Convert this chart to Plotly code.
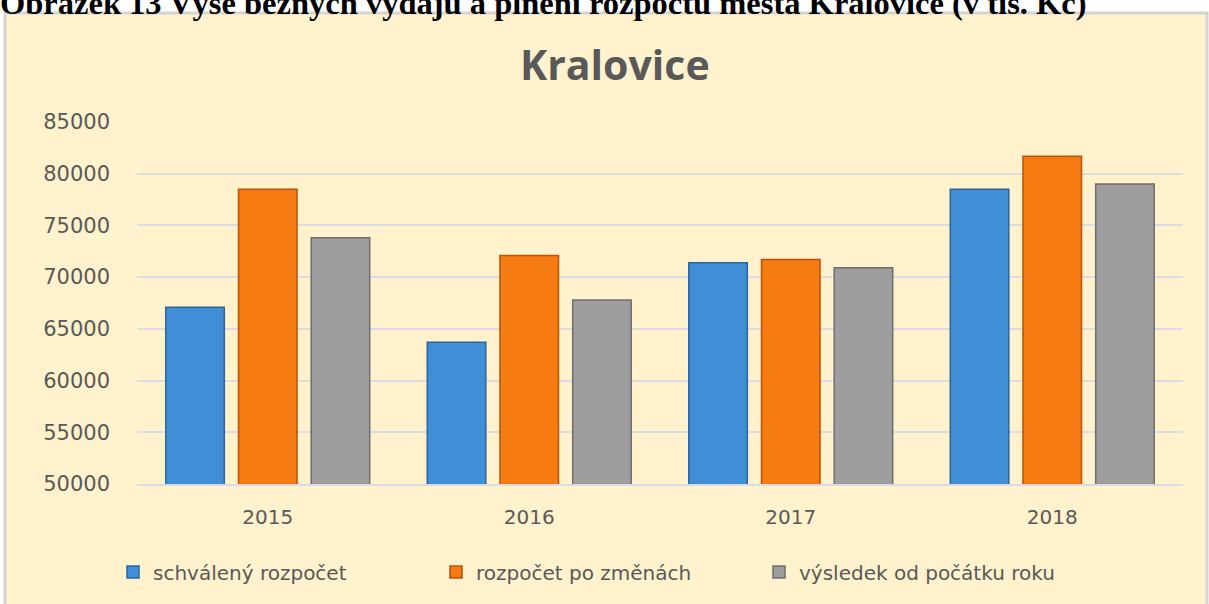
import plotly.graph_objects as go

years = ["2015", "2016", "2017", "2018"]
schvaleny = [67100, 63700, 71400, 78500]
po_zmenach = [78500, 72100, 71700, 81700]
vysledek = [73800, 67800, 70900, 79000]
series_names = ["schválený rozpočet", "rozpočet po změnách", "výsledek od počátku roku"]
colors = ["#3F8ED6", "#F57B12", "#9E9E9E"]
edges = ["#2A659E", "#B9520A", "#6E6E6E"]

W, H = 1209, 604
L, R, T, B = 137, 26, 122, 120
pw, ph = W - L - R, H - T - B

def px(x):
    return (x - L) / pw

def py(y):
    return (H - B - y) / ph

fig = go.Figure()
for name, vals, c, e in zip(series_names, [schvaleny, po_zmenach, vysledek], colors, edges):
    fig.add_trace(go.Bar(x=years, y=vals, name=name,
                         marker=dict(color=c, line=dict(color=e, width=1.5))))

fig.update_layout(
    width=W, height=H,
    margin=dict(l=L, r=R, t=T, b=B),
    paper_bgcolor="white",
    plot_bgcolor="rgba(0,0,0,0)",
    barmode="group", bargap=0.166, bargroupgap=0.195,
    font=dict(family="DejaVu Sans", color="#595959"),
    showlegend=True,
    legend=dict(orientation="h", x=px(113), xanchor="left", y=py(572), yanchor="middle",
                font=dict(family="DejaVu Sans", size=20, color="#595959"),
                bgcolor="rgba(0,0,0,0)", itemwidth=30, traceorder="normal",
                entrywidth=278),
    shapes=[dict(type="rect", xref="paper", yref="paper",
                 x0=px(5), x1=px(1207), y0=py(607), y1=py(13),
                 fillcolor="#FFF2CC", line=dict(color="#D4D4D4", width=3), layer="below")],
    annotations=[
        dict(text="Kralovice", xref="paper", yref="paper", x=px(615), y=py(64),
             xanchor="center", yanchor="middle", showarrow=False,
             font=dict(family="Open Sans", size=41, color="#595959", weight="bold")),
        dict(text="Obrázek 13 Výše běžných výdajů a plnění rozpočtu města Kralovice (v tis. Kč)",
             xref="paper", yref="paper", x=px(-2), y=py(3),
             xanchor="left", yanchor="middle", showarrow=False,
             font=dict(family="Liberation Serif", size=32.5, color="black", weight="bold")),
    ],
)
fig.update_yaxes(range=[50000, 85000], dtick=5000, tickformat="d", showgrid=True,
                 gridcolor="#D9DCE3", gridwidth=1.5, zeroline=False, showline=False,
                 tickfont=dict(size=21, color="#595959"), ticklabelstandoff=26)
fig.update_xaxes(showgrid=False, showline=True, linecolor="#D9DCE3", linewidth=1.5,
                 tickfont=dict(size=20, color="#595959"), ticklabelstandoff=14)

fig.write_html("out.html", config={"displayModeBar": False},
               post_script="document.body.style.margin='0';")
